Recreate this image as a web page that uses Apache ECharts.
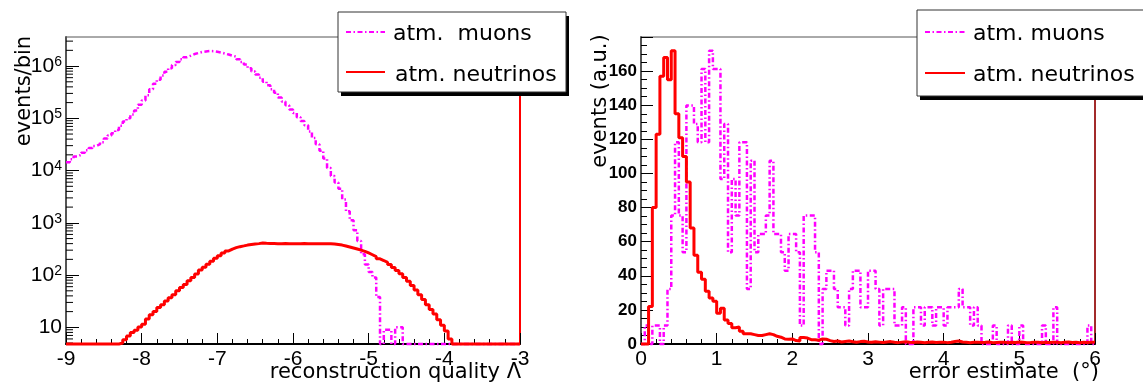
<!DOCTYPE html>
<html>
<head>
<meta charset="utf-8">
<script src="https://cdn.jsdelivr.net/npm/echarts@6/dist/echarts.min.js"></script>
<style>
html,body{margin:0;padding:0;background:#fff;}
#c{width:1143px;height:386px;}
</style>
</head>
<body>
<div id="c"></div>
<script>
// ---------- DATA ----------
// Left panel: reconstruction quality Lambda, bins of 0.05 from -9 to -3 (events/bin)
const lambdaStart = -9, lambdaEnd = -3, lambdaBinWidth = 0.05;
const muonsLambda = [
  14500, 16500, 18500, 20000, 22000, 24500, 27000, 29500, 32000, 35000,
  41000, 47000, 52000, 60000, 72000, 87000, 100000, 118000, 141000, 182000,
  220000, 275000, 360000, 460000, 550000, 660000, 780000, 910000, 1050000, 1200000,
  1350000, 1480000, 1580000, 1700000, 1780000, 1860000, 1900000, 1940000, 1930000, 1880000,
  1820000, 1740000, 1660000, 1580000, 1510000, 1350000, 1200000, 1070000, 910000, 790000,
  690000, 600000, 500000, 430000, 360000, 310000, 250000, 210000, 178000, 148000,
  126000, 105000, 89000, 74000, 56000, 42000, 32000, 24000, 17000, 11200,
  7900, 5900, 4500, 2800, 1660, 1120, 720, 450, 250, 160,
  115, 90, 38, 0, 9, 9, 0, 10, 10, 0,
  0, 0, 0, 0, 0, 0, 0, 0, 0, 0,
  0, 0, 0, 0, 0, 0, 0, 0, 0, 0,
  0, 0, 0, 0, 0, 0, 0, 0, 0, 0
];
const neutrinosLambda = [
  0, 0, 0, 0, 0, 0, 0, 0, 0, 0,
  0, 0, 0, 0, 5.0, 5.8, 6.8, 8.0, 8.8, 10.2,
  11.5, 14.5, 17.5, 20, 24, 27, 32, 37, 42, 50,
  58, 66, 78, 90, 105, 125, 142, 162, 183, 210,
  235, 265, 290, 315, 335, 350, 362, 375, 385, 395,
  400, 410, 405, 402, 401, 400, 400, 401, 400, 399,
  400, 400, 401, 400, 400, 399, 400, 400, 399, 398,
  395, 385, 375, 360, 345, 330, 315, 300, 285, 265,
  245, 225, 205, 190, 175, 160, 140, 122, 106, 90,
  76, 63, 52, 42, 34, 27, 22, 18, 14, 11,
  8.5, 6, 0, 0, 0, 0, 0, 0, 0, 0,
  0, 0, 0, 0, 0, 0, 0, 0, 0, 0
];
// Right panel: error estimate (deg), bins of 0.05 from 0 to 6 (events, a.u.)
const errStart = 0, errEnd = 6, errBinWidth = 0.05;
const muonsErr = [
  0, 10.8, 0, 10.8, 10.8, 0, 10.8, 32.3, 75.3, 118.3,
  75.3, 53.8, 139.8, 139.8, 129, 118.3, 161.3, 118.3, 172, 161.3,
  161.3, 96.8, 129, 53.8, 96.8, 75.3, 118.3, 118.3, 32.3, 107.5,
  53.8, 64.5, 64.5, 75.3, 107.5, 64.5, 64.5, 53.8, 43, 64.5,
  64.5, 53.8, 10.8, 75.3, 75.3, 75.3, 53.8, 0, 32.3, 43,
  43, 32.3, 21.5, 21.5, 10.8, 32.3, 43, 43, 21.5, 21.5,
  43, 43, 32.3, 10.8, 32.3, 32.3, 32.3, 10.8, 10.8, 21.5,
  0, 0, 21.5, 21.5, 10.8, 21.5, 21.5, 10.8, 21.5, 21.5,
  10.8, 21.5, 21.5, 21.5, 32.3, 21.5, 21.5, 10.8, 21.5, 10.8,
  0, 0, 0, 10.8, 0, 0, 0, 10.8, 0, 0,
  10.8, 0, 0, 0, 0, 0, 10.8, 0, 0, 21.5,
  0, 0, 0, 0, 0, 0, 0, 0, 10.8, 0
];
const neutrinosErr = [
  0, 0, 22, 80, 123, 157, 168, 155, 172, 135,
  121, 110, 95, 68, 52, 42, 38, 31, 27, 25,
  18, 21, 14, 12, 9.5, 10, 7.5, 6, 6, 5.5,
  5, 5, 5.5, 6, 5.5, 4.5, 4, 3, 2.8, 3,
  2, 1.8, 3.8, 3.5, 2.5, 2.5, 2.2, 3, 2.8, 2,
  1.5, 1.8, 1.2, 1.5, 1.8, 1.3, 1.0, 1.4, 1.6, 1.2,
  1.0, 1.3, 1.1, 0.9, 1.2, 1.4, 1.0, 0.8, 1.1, 1.3,
  1.0, 0.9, 1.2, 1.0, 0.8, 1.0, 1.2, 0.9, 1.0, 1.1,
  0.8, 1.0, 1.5, 1.8, 1.2, 1.0, 0.8, 1.0, 1.1, 0.9,
  1.0, 1.2, 0.8, 0.9, 1.0, 1.1, 0.8, 1.0, 0.9, 1.2,
  1.0, 0.8, 0.9, 1.1, 1.0, 0.8, 1.0, 0.9, 1.1, 1.0,
  0.8, 1.0, 1.2, 0.9, 1.0, 0.8, 1.0, 0.9, 1.0, 1.1
];
// Axis ranges and tick definitions
const leftYMin = 4.8, leftYMax = 3.6e6;
const logMinorMantissas = [2, 3, 4, 5, 6, 7, 8, 9];
const logDecades = [0, 1, 2, 3, 4, 5, 6];
const rightYMin = 0, rightYMax = 180, rightYInterval = 20;
const seriesNames = ['atm. muons', 'atm. neutrinos'];
const legendLeftTexts = ['atm.  muons', 'atm. neutrinos'];
const legendRightTexts = ['atm. muons', 'atm. neutrinos'];
const titles = {
  leftX: 'reconstruction quality \u039B',
  leftY: 'events/bin',
  rightX: 'error estimate  (\u00B0)',
  rightY: 'events (a.u.)'
};

// ---------- BUILD ----------
function histogramPoints(values, start, width, floorValue) {
  const pts = values.map((v, i) => [+(start + i * width).toFixed(4), v > 0 ? v : floorValue]);
  pts.push([+(start + values.length * width).toFixed(4), pts[pts.length - 1][1]]);
  return pts;
}
const minorTickPoints = [];
logDecades.forEach(e => logMinorMantissas.forEach(m => {
  const v = m * Math.pow(10, e);
  if (v > leftYMin && v < leftYMax) minorTickPoints.push([lambdaStart, v]);
}));

const FONT = 'DejaVu Sans';
const TICKFONT = 'Liberation Sans';
const MAGENTA = '#ff00ff', RED = '#ff0000';
const dashDot = [5, 2.5, 1.5, 2.5];

const commonX = {
  type: 'value', interval: 1,
  axisLine: {show: true, onZero: false, lineStyle: {color: '#000', width: 2}},
  axisTick: {show: true, inside: true, length: 11, lineStyle: {color: '#000', width: 1}},
  minorTick: {show: true, splitNumber: 5, length: 5, lineStyle: {color: '#000', width: 1}},
  axisLabel: {fontFamily: TICKFONT, fontSize: 21, color: '#000', margin: 5},
  splitLine: {show: false}
};

const chart = echarts.init(document.getElementById('c'), null, {renderer: 'canvas', width: 1143, height: 386});
const option = {
  animation: false,
  backgroundColor: '#fff',
  grid: [
    {left: 66, top: 37, width: 454, height: 307, show: true, borderColor: '#555', borderWidth: 1, backgroundColor: 'transparent'},
    {left: 641, top: 37, width: 454, height: 307, show: true, borderColor: '#555', borderWidth: 1, backgroundColor: 'transparent'}
  ],
  xAxis: [
    Object.assign({}, commonX, {gridIndex: 0, min: lambdaStart, max: lambdaEnd}),
    Object.assign({}, commonX, {gridIndex: 1, min: errStart, max: errEnd})
  ],
  yAxis: [
    {
      type: 'log', logBase: 10, gridIndex: 0, min: leftYMin, max: leftYMax,
      axisLine: {show: true, lineStyle: {color: '#555', width: 2}},
      axisTick: {show: true, inside: true, length: 13, lineStyle: {color: '#000', width: 1}},
      minorTick: {show: false},
      splitLine: {show: false},
      axisLabel: {
        showMinLabel: false, showMaxLabel: false, margin: 4,
        formatter: v => {
          const e = Math.round(Math.log10(v));
          return e === 1 ? '{b|10}' : '{b|10}{s|' + e + '}';
        },
        rich: {
          b: {fontFamily: TICKFONT, fontSize: 21, color: '#000'},
          s: {fontFamily: TICKFONT, fontSize: 14, color: '#000', verticalAlign: 'top', padding: [0, 0, 8, 0]}
        }
      }
    },
    {
      type: 'value', gridIndex: 0, position: 'right', min: 0, max: 1,
      axisLine: {show: true, lineStyle: {color: RED, width: 2}},
      axisTick: {show: false}, axisLabel: {show: false}, splitLine: {show: false}
    },
    {
      type: 'value', gridIndex: 1, min: rightYMin, max: rightYMax, interval: rightYInterval,
      axisLine: {show: true, lineStyle: {color: '#555', width: 2}},
      axisTick: {show: true, inside: true, length: 12, lineStyle: {color: '#000', width: 1}},
      minorTick: {show: true, splitNumber: 4, length: 6, lineStyle: {color: '#000', width: 1}},
      splitLine: {show: false},
      axisLabel: {showMaxLabel: false, fontFamily: TICKFONT, fontWeight: 'bold', fontSize: 17, color: '#000', margin: 4}
    },
    {
      type: 'value', gridIndex: 1, position: 'right', min: 0, max: 1,
      axisLine: {show: true, lineStyle: {color: '#a00000', width: 1.5}},
      axisTick: {show: false}, axisLabel: {show: false}, splitLine: {show: false}
    }
  ],
  series: [
    {
      type: 'custom', name: 'log minor ticks', xAxisIndex: 0, yAxisIndex: 0, silent: true, clip: false, z: 1,
      data: minorTickPoints,
      renderItem: (params, api) => {
        const p = api.coord([api.value(0), api.value(1)]);
        return {type: 'line', shape: {x1: p[0], y1: p[1], x2: p[0] + 7, y2: p[1]}, style: {stroke: '#000', lineWidth: 1}};
      }
    },
    {
      type: 'line', name: seriesNames[0], xAxisIndex: 0, yAxisIndex: 0, step: 'end',
      data: histogramPoints(muonsLambda, lambdaStart, lambdaBinWidth, leftYMin),
      symbol: 'none', showSymbol: false, clip: false, z: 3,
      lineStyle: {color: MAGENTA, width: 2.5, type: dashDot}
    },
    {
      type: 'line', name: seriesNames[1], xAxisIndex: 0, yAxisIndex: 0, step: 'end',
      data: histogramPoints(neutrinosLambda, lambdaStart, lambdaBinWidth, leftYMin),
      symbol: 'none', showSymbol: false, clip: false, z: 4,
      lineStyle: {color: RED, width: 3}
    },
    {
      type: 'line', name: seriesNames[0], xAxisIndex: 1, yAxisIndex: 2, step: 'end',
      data: histogramPoints(muonsErr, errStart, errBinWidth, 0),
      symbol: 'none', showSymbol: false, clip: false, z: 3,
      lineStyle: {color: MAGENTA, width: 2.5, type: dashDot}
    },
    {
      type: 'line', name: seriesNames[1], xAxisIndex: 1, yAxisIndex: 2, step: 'end',
      data: histogramPoints(neutrinosErr, errStart, errBinWidth, 0),
      symbol: 'none', showSymbol: false, clip: false, z: 4,
      lineStyle: {color: RED, width: 3}
    }
  ],
  graphic: [
    // axis titles
    {type: 'text', z: 100, x: 25, y: 91, rotation: Math.PI / 2,
      style: {text: titles.leftY, fontFamily: FONT, fontSize: 21, fill: '#000', textAlign: 'center', textVerticalAlign: 'middle'}},
    {type: 'text', z: 100, x: 521, y: 373,
      style: {text: titles.leftX, fontFamily: FONT, fontSize: 21, fill: '#000', textAlign: 'right', textVerticalAlign: 'middle'}},
    {type: 'text', z: 100, x: 601, y: 101, rotation: Math.PI / 2,
      style: {text: titles.rightY, fontFamily: FONT, fontSize: 21, fill: '#000', textAlign: 'center', textVerticalAlign: 'middle'}},
    {type: 'text', z: 100, x: 1099, y: 373,
      style: {text: titles.rightX, fontFamily: FONT, fontSize: 21, fill: '#000', textAlign: 'right', textVerticalAlign: 'middle'}},
    // left legend
    {type: 'rect', z: 100, shape: {x: 341, y: 16, width: 228, height: 80}, style: {fill: '#000'}},
    {type: 'rect', z: 101, shape: {x: 338, y: 12, width: 228, height: 80}, style: {fill: '#fff', stroke: '#333', lineWidth: 1}},
    {type: 'line', z: 102, shape: {x1: 346, y1: 32, x2: 385, y2: 32}, style: {stroke: MAGENTA, lineWidth: 2, lineDash: dashDot}},
    {type: 'text', z: 102, x: 393, y: 34, style: {text: legendLeftTexts[0], fontFamily: FONT, fontSize: 22, fill: '#000', textVerticalAlign: 'middle'}},
    {type: 'line', z: 102, shape: {x1: 346, y1: 72, x2: 385, y2: 72}, style: {stroke: RED, lineWidth: 2}},
    {type: 'text', z: 102, x: 395, y: 75, style: {text: legendLeftTexts[1], fontFamily: FONT, fontSize: 22, fill: '#000', textVerticalAlign: 'middle'}},
    // right legend
    {type: 'rect', z: 100, shape: {x: 920, y: 14, width: 240, height: 86}, style: {fill: '#000'}},
    {type: 'rect', z: 101, shape: {x: 917, y: 10, width: 240, height: 86}, style: {fill: '#fff', stroke: '#333', lineWidth: 1}},
    {type: 'line', z: 102, shape: {x1: 925, y1: 32, x2: 965, y2: 32}, style: {stroke: MAGENTA, lineWidth: 2, lineDash: dashDot}},
    {type: 'text', z: 102, x: 973, y: 34, style: {text: legendRightTexts[0], fontFamily: FONT, fontSize: 22, fill: '#000', textVerticalAlign: 'middle'}},
    {type: 'line', z: 102, shape: {x1: 925, y1: 73, x2: 965, y2: 73}, style: {stroke: RED, lineWidth: 2}},
    {type: 'text', z: 102, x: 973, y: 75, style: {text: legendRightTexts[1], fontFamily: FONT, fontSize: 22, fill: '#000', textVerticalAlign: 'middle'}}
  ]
};
chart.setOption(option);
</script>
</body>
</html>
